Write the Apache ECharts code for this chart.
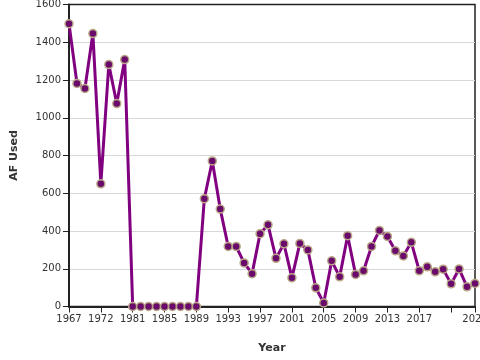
<!DOCTYPE html>
<html><head><meta charset="utf-8">
<script src="https://cdn.jsdelivr.net/npm/echarts@6/dist/echarts.min.js"></script>
<style>html,body{margin:0;padding:0;background:#fff}#c{width:480px;height:360px}</style>
</head><body><div id="c"></div>
<script>
var years = [1967,1968,1969,1970,1972,1973,1974,1975,
  1981,1982,1983,1984,1985,1986,1987,1988,1989,1990,1991,1992,1993,1994,1995,1996,1997,1998,1999,2000,
  2001,2002,2003,2004,2005,2006,2007,2008,2009,2010,2011,2012,2013,2014,2015,2016,2017,2018,2019,2020,
  2021,2022,2023,2024];
var afUsed = [1498,1182,1155,1446,650,1282,1075,1308,
  0,0,0,0,0,0,0,0,0,571,771,516,318,318,231,174,386,433,255,332,
  152,334,300,99,19,242,157,375,170,189,318,403,371,295,268,340,
  189,210,184,198,120,199,104,122];
var lastIdx = years.length - 1;
function showLabel(i){ return (i % 4 === 0 && i !== 48) || i === lastIdx; }
function showTick(i){ return i % 4 === 0 || i === lastIdx; }
var chart = echarts.init(document.getElementById('c'), null, {renderer:'canvas'});
chart.setOption({
  animation:false,
  grid:{left:69,right:5,top:4.5,bottom:53.5,containLabel:false,outerBoundsMode:'none',show:true,borderColor:'#222',borderWidth:1.5,backgroundColor:'transparent'},
  xAxis:{type:'category',data:years.map(String),boundaryGap:false,
    name:'Year',nameLocation:'middle',nameGap:36,
    nameTextStyle:{fontFamily:'DejaVu Sans',fontWeight:'bold',fontSize:11,color:'#333'},
    axisLine:{lineStyle:{color:'#222',width:2}},
    axisTick:{interval:function(i){return showTick(i);},length:6,lineStyle:{color:'#222',width:1}},
    axisLabel:{interval:function(i){return showLabel(i);},fontFamily:'DejaVu Sans',fontSize:10,color:'#333',margin:8,hideOverlap:false},
    splitLine:{show:false}},
  yAxis:{type:'value',min:0,max:1600,interval:200,
    name:'AF Used',nameLocation:'middle',nameGap:49,
    nameTextStyle:{fontFamily:'DejaVu Sans',fontWeight:'bold',fontSize:11,color:'#333'},
    axisLine:{show:true,lineStyle:{color:'#222',width:2}},
    axisTick:{show:true,length:6,lineStyle:{color:'#222',width:1}},
    axisLabel:{fontFamily:'DejaVu Sans',fontSize:10,color:'#333',margin:8,formatter:function(v){return String(v);}},
    splitLine:{showMaxLine:false,lineStyle:{color:'#d8d8d8',width:1}}},
  series:[{type:'line',data:afUsed,
    lineStyle:{color:'#800080',width:3},
    symbol:'circle',symbolSize:8,showAllSymbol:true,
    itemStyle:{color:'#6a0a6a',borderColor:'#b9a888',borderWidth:1.5}}]
});
</script></body></html>
